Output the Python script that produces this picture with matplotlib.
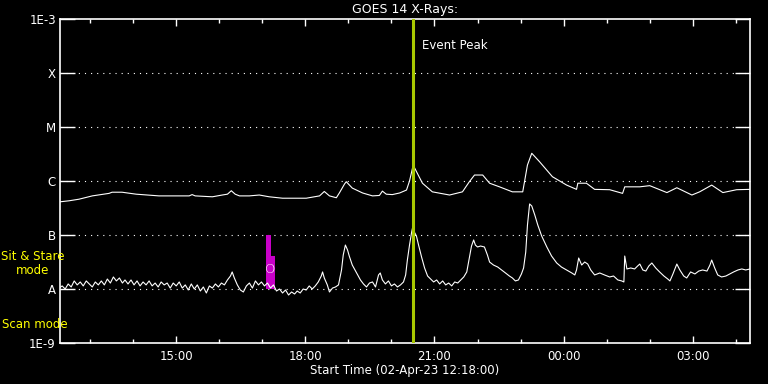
import numpy as np
import matplotlib
matplotlib.use("Agg")
import matplotlib.pyplot as plt
from matplotlib.ticker import MultipleLocator, FixedLocator

# time in hours since 00:00 on 02-Apr-23 (values above 24 are next day)
t_long = [12.28, 12.51, 12.74, 13.05, 13.44, 13.51, 13.74, 14.07, 14.60, 15.00,
          15.30, 15.37, 15.44, 15.84, 16.07, 16.19, 16.28, 16.37, 16.47, 16.70,
          16.93, 17.16, 17.47, 18.02, 18.33, 18.44, 18.56, 18.72, 18.79, 18.91,
          18.95, 19.09, 19.33, 19.56, 19.72, 19.79, 19.88, 20.02, 20.19, 20.35,
          20.42, 20.49, 20.53, 20.58, 20.72, 20.95, 21.35, 21.65, 21.81, 21.93,
          22.12, 22.28, 22.51, 22.81, 23.05, 23.16, 23.26, 23.44, 23.74, 24.07,
          24.30, 24.33, 24.53, 24.72, 25.07, 25.37, 25.42, 25.77, 26.00, 26.40,
          26.63, 26.98, 27.16, 27.44, 27.70, 28.02, 28.33]
# long channel flux in units of 1e-7 W/m^2
flux_long = [4.1, 4.3, 4.6, 5.3, 5.9, 6.2, 6.2, 5.7, 5.3, 5.3,
             5.3, 5.6, 5.3, 5.1, 5.5, 5.7, 6.6, 5.7, 5.3, 5.3,
             5.5, 5.1, 4.8, 4.8, 5.3, 6.4, 5.3, 4.9, 6.0, 8.8,
             9.7, 7.4, 6.0, 5.3, 5.4, 6.5, 5.7, 5.6, 6.0, 6.8,
             10.0, 17.4, 18.0, 15.0, 9.1, 6.3, 5.5, 6.3, 9.7, 12.9,
             12.9, 9.1, 7.8, 6.3, 6.3, 19.8, 32.6, 22.8, 12.0, 8.4,
             7.0, 9.1, 9.1, 7.0, 6.9, 5.9, 7.8, 7.8, 8.2, 6.1,
             7.5, 5.5, 6.3, 8.4, 6.1, 6.9, 7.0]

t_short = [12.28, 12.35, 12.42, 12.49, 12.56, 12.63, 12.70, 12.77, 12.84, 12.91,
           12.98, 13.05, 13.12, 13.19, 13.26, 13.33, 13.40, 13.47, 13.54, 13.61,
           13.68, 13.75, 13.81, 13.88, 13.95, 14.02, 14.09, 14.16, 14.23, 14.30,
           14.37, 14.44, 14.51, 14.58, 14.65, 14.72, 14.79, 14.86, 14.93, 15.00,
           15.07, 15.14, 15.21, 15.28, 15.35, 15.42, 15.49, 15.56, 15.63, 15.70,
           15.77, 15.84, 15.91, 15.98, 16.05, 16.12, 16.19, 16.26, 16.30, 16.35,
           16.42, 16.49, 16.56, 16.63, 16.70, 16.77, 16.84, 16.91, 16.98, 17.05,
           17.12, 17.19, 17.26, 17.33, 17.40, 17.47, 17.54, 17.61, 17.68, 17.75,
           17.81, 17.88, 17.95, 18.02, 18.09, 18.16, 18.23, 18.30, 18.37, 18.40,
           18.44, 18.51, 18.56, 18.63, 18.70, 18.77, 18.84, 18.88, 18.93, 18.98,
           19.02, 19.09, 19.19, 19.28, 19.35, 19.42, 19.49, 19.56, 19.63, 19.70,
           19.74, 19.79, 19.86, 19.93, 20.00, 20.07, 20.14, 20.21, 20.28, 20.33,
           20.37, 20.42, 20.47, 20.49, 20.53, 20.58, 20.63, 20.70, 20.77, 20.84,
           20.91, 20.98, 21.05, 21.12, 21.19, 21.26, 21.33, 21.40, 21.47, 21.54,
           21.61, 21.68, 21.75, 21.81, 21.86, 21.91, 21.95, 22.00, 22.07, 22.16,
           22.23, 22.28, 22.37, 22.47, 22.56, 22.65, 22.74, 22.81, 22.88, 22.95,
           23.02, 23.07, 23.12, 23.16, 23.21, 23.26, 23.33, 23.40, 23.49, 23.61,
           23.72, 23.84, 23.95, 24.07, 24.19, 24.26, 24.30, 24.35, 24.42, 24.49,
           24.56, 24.63, 24.72, 24.84, 24.95, 25.07, 25.16, 25.26, 25.35, 25.40,
           25.42, 25.47, 25.56, 25.65, 25.72, 25.77, 25.84, 25.91, 25.98, 26.05,
           26.14, 26.23, 26.33, 26.42, 26.47, 26.54, 26.63, 26.70, 26.79, 26.86,
           26.95, 27.05, 27.14, 27.23, 27.33, 27.40, 27.44, 27.51, 27.58, 27.67,
           27.77, 27.86, 27.95, 28.05, 28.14, 28.23, 28.33]
# short channel flux in units of 1e-8 W/m^2
flux_short = [1.04, 1.14, 1.00, 1.24, 1.09, 1.41, 1.19, 1.35, 1.14, 1.41,
              1.24, 1.09, 1.35, 1.19, 1.41, 1.19, 1.53, 1.29, 1.67, 1.41,
              1.60, 1.29, 1.47, 1.24, 1.47, 1.19, 1.41, 1.14, 1.35, 1.19,
              1.41, 1.14, 1.29, 1.09, 1.35, 1.19, 1.29, 1.04, 1.29, 1.14,
              1.35, 1.04, 1.19, 0.958, 1.24, 1.00, 1.19, 0.918, 1.09, 0.843,
              1.14, 1.04, 1.24, 1.09, 1.29, 1.19, 1.47, 1.74, 2.07, 1.60,
              1.19, 0.958, 0.880, 1.14, 1.29, 1.04, 1.41, 1.19, 1.35, 1.14,
              1.29, 1.04, 1.19, 0.918, 1.00, 0.843, 0.958, 0.774, 0.880, 0.808,
              0.918, 0.843, 1.00, 0.958, 1.14, 1.00, 1.14, 1.35, 1.74, 2.07,
              1.60, 1.19, 0.880, 1.04, 1.09, 1.19, 2.25, 4.26, 6.52, 5.28,
              4.08, 2.78, 1.98, 1.47, 1.24, 1.09, 1.29, 1.35, 1.09, 1.82,
              1.98, 1.47, 1.24, 1.41, 1.14, 1.24, 1.09, 1.19, 1.35, 1.82,
              3.44, 6.52, 11.4, 13.5, 11.4, 9.6, 6.52, 3.91, 2.45, 1.74,
              1.53, 1.35, 1.47, 1.24, 1.41, 1.19, 1.29, 1.14, 1.35, 1.29,
              1.47, 1.67, 2.07, 3.75, 6.25, 8.1, 6.52, 6.0, 6.25, 6.0,
              4.26, 3.16, 2.78, 2.55, 2.25, 1.98, 1.74, 1.60, 1.41, 1.47,
              1.90, 2.45, 4.84, 15.3, 37.6, 34.4, 23.5, 15.3, 9.6, 6.0,
              4.08, 3.03, 2.55, 2.25, 1.98, 1.82, 2.25, 3.75, 2.78, 3.16,
              2.90, 2.25, 1.82, 1.98, 1.82, 1.67, 1.74, 1.47, 1.41, 1.35,
              4.08, 2.35, 2.45, 2.35, 2.67, 2.90, 2.25, 2.15, 2.67, 3.03,
              2.45, 2.07, 1.74, 1.53, 1.41, 1.90, 2.90, 2.25, 1.74, 1.60,
              2.07, 1.90, 2.15, 2.25, 2.15, 2.78, 3.44, 2.45, 1.82, 1.67,
              1.74, 1.90, 2.07, 2.25, 2.35, 2.25, 2.35]

# sit & stare intervals (start hour, width in hours, top flux)
ss_start = [17.09, 17.21]
ss_width = [0.12, 0.09]
ss_top = [1.0e-7, 4.1e-8]

t_start = 12.30
t_end = 28.33
t_peak = 20.49

class_vals = [1e-9, 1e-8, 1e-7, 1e-6, 1e-5, 1e-4, 1e-3]
class_labels = ['1E-9', 'A', 'B', 'C', 'M', 'X', '1E-3']
hour_ticks = [15, 18, 21, 24, 27]
hour_labels = ['15:00', '18:00', '21:00', '00:00', '03:00']

W = 'white'
fig = plt.figure(figsize=(7.68, 3.84), dpi=100, facecolor='black')
ax = fig.add_axes([60/768, 41/384, 690/768, 324/384], facecolor='black')

ax.set_yscale('log')
ax.set_ylim(1e-9, 1e-3)
ax.set_xlim(t_start, t_end)

for y in class_vals[1:-1]:
    ax.axhline(y, color=W, lw=0.8, linestyle=(0, (1, 4.5)), zorder=1)

ax.plot(t_long, np.array(flux_long) * 1e-7, color=W, lw=0.8, zorder=3)
ax.plot(t_short, np.array(flux_short) * 1e-8, color=W, lw=0.8, zorder=3)

ax.bar(ss_start, np.array(ss_top) - 1e-8, width=ss_width, bottom=1e-8,
       align='edge', color='#c800c8', zorder=2)
ax.text(17.19, 2.3e-8, 'O', color=W, fontsize=9.5, ha='center', va='center',
        fontweight='light', zorder=4)

ax.axvline(t_peak, color='#a8c800', lw=2.2, zorder=5)
ax.text(t_peak + 0.23, 3.2e-4, 'Event Peak', color=W, fontsize=8.5,
        ha='left', va='center')

ax.yaxis.set_major_locator(FixedLocator(class_vals))
ax.set_yticklabels(class_labels)
ax.yaxis.set_minor_locator(FixedLocator([]))
ax.tick_params(axis='y', which='major', direction='in', length=11, width=1.0,
               colors=W, left=True, right=True, labelsize=8.5, pad=3)

ax.set_xticks(hour_ticks)
ax.set_xticklabels(hour_labels)
ax.xaxis.set_minor_locator(MultipleLocator(1))
ax.tick_params(axis='x', which='major', direction='in', length=5, width=1.0,
               colors=W, top=True, bottom=True, labelsize=8.5, pad=5)
ax.tick_params(axis='x', which='minor', direction='in', length=3, width=1.0,
               colors=W, top=True, bottom=True)

for s in ax.spines.values():
    s.set_color(W)
    s.set_linewidth(1.2)

ax.set_xlabel('Start Time (02-Apr-23 12:18:00)', color=W, fontsize=8.5, labelpad=1)
ax.set_title('GOES 14 X-Rays:', color=W, fontsize=9, pad=4)

fig.text(33/768, 1 - 264/384, 'Sit & Stare\nmode', color='yellow', fontsize=8.5,
         ha='center', va='center', linespacing=1.1)
fig.text(2/768, 1 - 324/384, 'Scan mode', color='yellow', fontsize=8.5,
         ha='left', va='center')

fig.savefig('out.png', dpi=100, facecolor='black')
